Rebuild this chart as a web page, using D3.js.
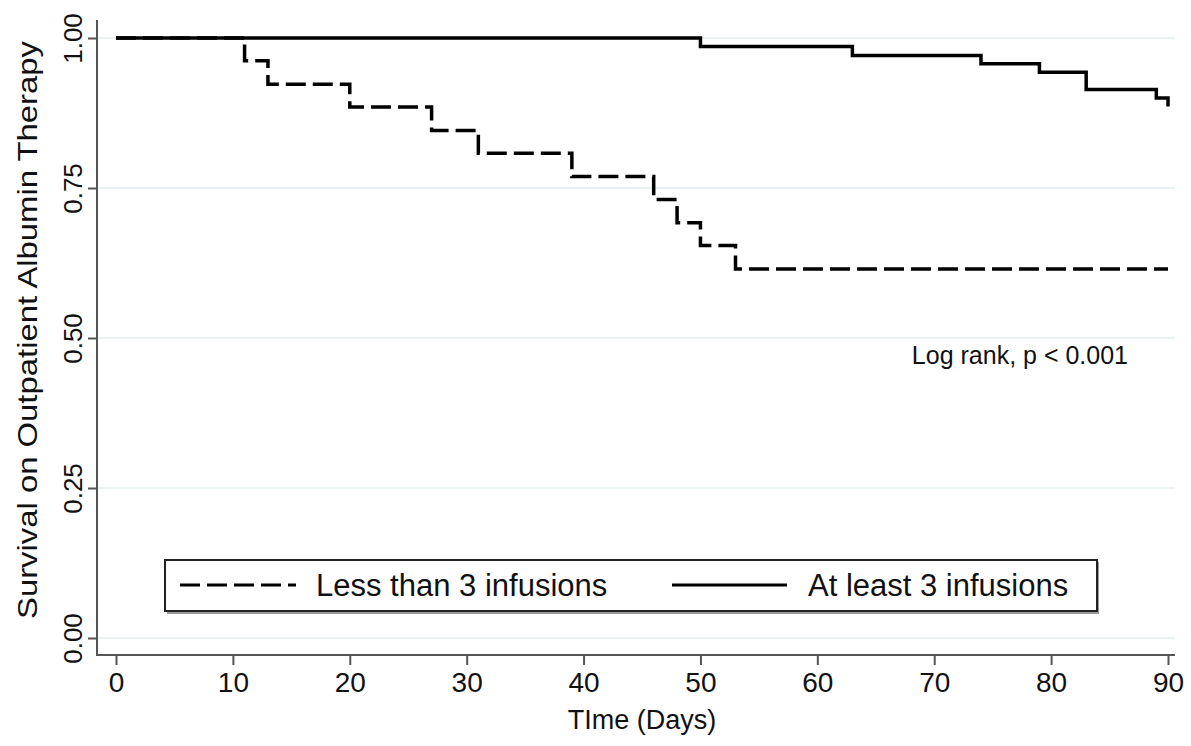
<html>
<head>
<meta charset="UTF-8">
<title>Survival on Outpatient Albumin Therapy</title>
<script src="https://d3js.org/d3.v7.min.js"></script>
<style>
  html, body { margin: 0; padding: 0; background: #fff; }
  svg text { font-family: "Liberation Sans", Arial, sans-serif; fill: #111; }
  .grid line { stroke: #eaf1f2; stroke-width: 2; }
  .axis line, .axis path { stroke: #555; stroke-width: 2; }
  .curve { fill: none; stroke: #000; stroke-width: 3.5; }
  .dashed { stroke-dasharray: 20 7; }
</style>
</head>
<body>
<div id="container"></div>
<script>
// Kaplan-Meier steps
const lessDays = [0, 11, 13, 20, 27, 31, 39, 46, 48, 50, 53, 90];
const lessSurv = [1, 0.962, 0.923, 0.885, 0.846, 0.808, 0.769, 0.731, 0.692, 0.654, 0.615, 0.615];
const moreDays = [0, 50, 63, 74, 79, 83, 89, 90];
const moreSurv = [1, 0.986, 0.971, 0.957, 0.943, 0.914, 0.900, 0.886];

const xTicks = [0, 10, 20, 30, 40, 50, 60, 70, 80, 90];
const yTicks = [0, 0.25, 0.5, 0.75, 1];
const legendLabels = ["Less than 3 infusions", "At least 3 infusions"];

const W = 1191, H = 746;
const axisX = 97, axisY = 655, plotTop = 20, plotRight = 1175;

const x = d3.scaleLinear().domain([0, 90]).range([116, 1168]);
const y = d3.scaleLinear().domain([0, 1]).range([638, 38]);

const svg = d3.select("#container").append("svg")
  .attr("width", W).attr("height", H);

// grid lines
svg.append("g").attr("class", "grid")
  .selectAll("line").data(yTicks).enter().append("line")
  .attr("x1", axisX).attr("x2", plotRight)
  .attr("y1", d => y(d)).attr("y2", d => y(d));

// y axis
const ya = svg.append("g").attr("class", "axis")
  .attr("transform", "translate(" + axisX + ",0)")
  .call(d3.axisLeft(y).tickValues(yTicks).tickFormat(d3.format(".2f")).tickSize(9).tickSizeOuter(0));
ya.select(".domain").remove();
ya.selectAll("text")
  .attr("x", 0).attr("dy", 0)
  .attr("text-anchor", "middle")
  .attr("transform", "translate(-15,0) rotate(-90)")
  .style("font-size", "26px")
  .style("font-family", "'Liberation Sans', Arial, sans-serif")
  .attr("fill", "#111");
ya.append("line").attr("x1", 0).attr("x2", 0).attr("y1", plotTop).attr("y2", axisY);

// x axis
const xa = svg.append("g").attr("class", "axis")
  .attr("transform", "translate(0," + axisY + ")")
  .call(d3.axisBottom(x).tickValues(xTicks).tickSize(10).tickPadding(7).tickSizeOuter(0));
xa.select(".domain").remove();
xa.selectAll("text")
  .style("font-size", "28px")
  .style("font-family", "'Liberation Sans', Arial, sans-serif")
  .attr("fill", "#111");
xa.append("line").attr("x1", axisX - 1).attr("x2", plotRight).attr("y1", 0).attr("y2", 0);

// curves
const step = d3.line().curve(d3.curveStepAfter)
  .x(d => x(d[0])).y(d => y(d[1]));

svg.append("path").attr("class", "curve dashed")
  .datum(d3.zip(lessDays, lessSurv))
  .attr("d", step);

svg.append("path").attr("class", "curve")
  .datum(d3.zip(moreDays, moreSurv))
  .attr("d", step);

// annotation
svg.append("text")
  .attr("x", 1128).attr("y", 364)
  .attr("text-anchor", "end")
  .style("font-size", "25px")
  .text("Log rank, p < 0.001");

// axis titles
svg.append("text")
  .attr("x", x(45)).attr("y", 729)
  .attr("text-anchor", "middle")
  .style("font-size", "27px")
  .text("TIme (Days)");

svg.append("text")
  .attr("transform", "translate(37,330) rotate(-90)")
  .attr("text-anchor", "middle")
  .attr("textLength", 578)
  .attr("lengthAdjust", "spacingAndGlyphs")
  .style("font-size", "28px")
  .text("Survival on Outpatient Albumin Therapy");

// legend
const lg = svg.append("g");
lg.append("rect")
  .attr("x", 167).attr("y", 562).attr("width", 932).attr("height", 52)
  .attr("fill", "#999");
lg.append("rect")
  .attr("x", 165).attr("y", 560).attr("width", 932).attr("height", 51)
  .attr("fill", "#fff").attr("stroke", "#222").attr("stroke-width", 2);

const legendItems = [
  { label: legendLabels[0], x0: 180, x1: 296, tx: 316, dashed: true },
  { label: legendLabels[1], x0: 672, x1: 787, tx: 808, dashed: false }
];
legendItems.forEach(it => {
  lg.append("line")
    .attr("class", "curve" + (it.dashed ? " dashed" : ""))
    .attr("x1", it.x0).attr("x2", it.x1).attr("y1", 585).attr("y2", 585)
    .style("stroke-width", 3);
  lg.append("text")
    .attr("x", it.tx).attr("y", 596)
    .style("font-size", "31px")
    .text(it.label);
});
</script>
</body>
</html>
